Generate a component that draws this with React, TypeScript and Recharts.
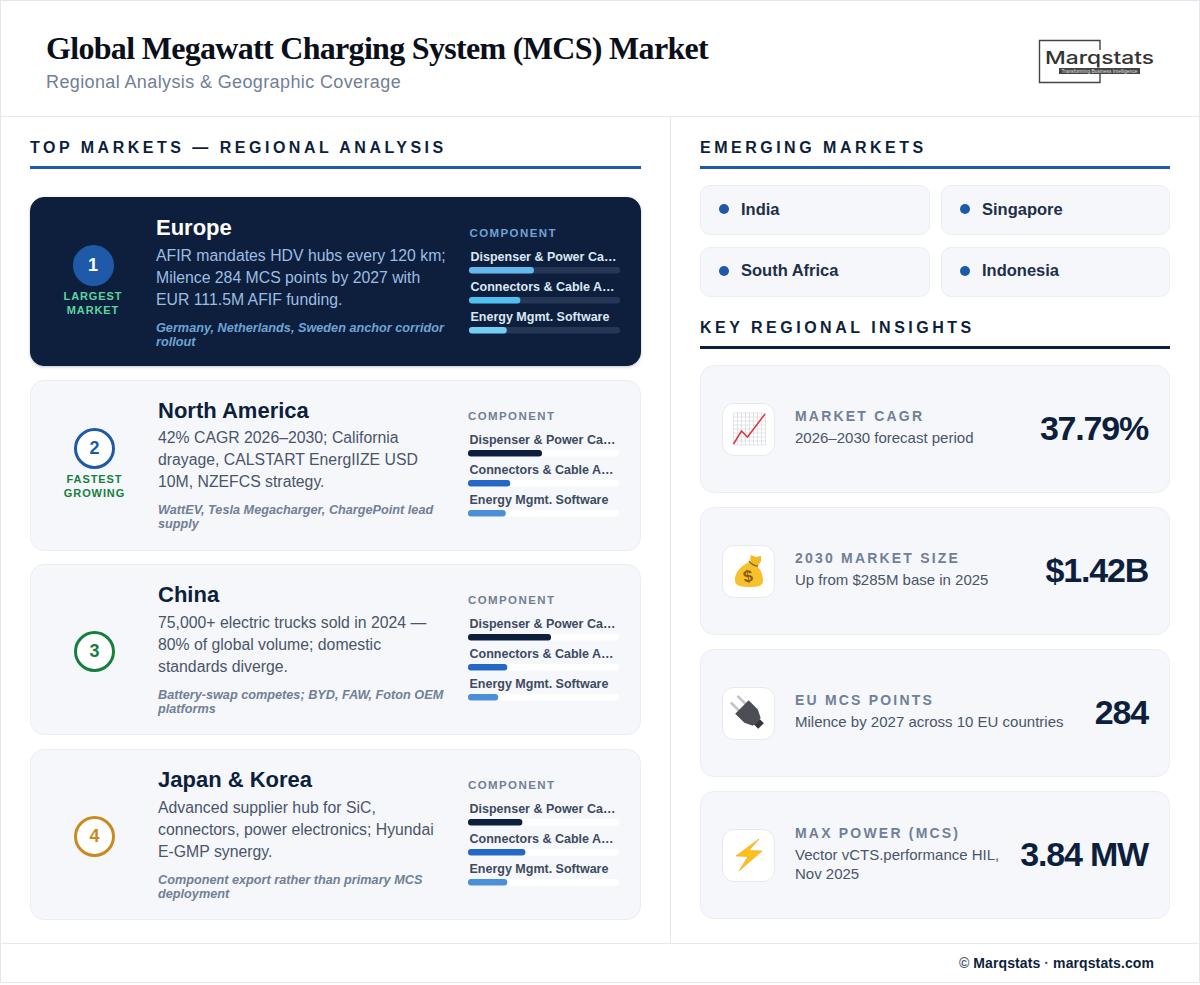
import { BarChart, Bar, Cell, XAxis, YAxis, LabelList } from 'recharts';

const SANS = '"Liberation Sans", Arial, sans-serif';
const NAVY = '#0d1f3c';
const BLUE = '#1e5aa8';
const CARD_BG = '#f5f7fb';
const CARD_BORDER = '#e9edf4';

// component rows shared by all four regional cards
const componentLabels = ['Dispenser & Power Ca…', 'Connectors & Cable A…', 'Energy Mgmt. Software'];

const europeShares = [43, 34, 25];
const northAmericaShares = [49, 28, 25];
const chinaShares = [55, 26, 20];
const japanKoreaShares = [36, 38, 26];

const regionNames = ['Europe', 'North America', 'China', 'Japan & Korea'];
const regionBadges = [['LARGEST', 'MARKET'], ['FASTEST', 'GROWING'], [], []];
const regionBody = [
  ['AFIR mandates HDV hubs every 120 km;', 'Milence 284 MCS points by 2027 with', 'EUR 111.5M AFIF funding.'],
  ['42% CAGR 2026–2030; California', 'drayage, CALSTART EnergIIZE USD', '10M, NZEFCS strategy.'],
  ['75,000+ electric trucks sold in 2024 —', '80% of global volume; domestic', 'standards diverge.'],
  ['Advanced supplier hub for SiC,', 'connectors, power electronics; Hyundai', 'E-GMP synergy.'],
];
const regionNotes = [
  ['Germany, Netherlands, Sweden anchor corridor', 'rollout'],
  ['WattEV, Tesla Megacharger, ChargePoint lead', 'supply'],
  ['Battery-swap competes; BYD, FAW, Foton OEM', 'platforms'],
  ['Component export rather than primary MCS', 'deployment'],
];
const regionShares = [europeShares, northAmericaShares, chinaShares, japanKoreaShares];

const emergingMarkets = ['India', 'Singapore', 'South Africa', 'Indonesia'];

const insightLabels = ['MARKET CAGR', '2030 MARKET SIZE', 'EU MCS POINTS', 'MAX POWER (MCS)'];
const insightSubs = [
  ['2026–2030 forecast period'],
  ['Up from $285M base in 2025'],
  ['Milence by 2027 across 10 EU countries'],
  ['Vector vCTS.performance HIL,', 'Nov 2025'],
];
const insightValues = ['37.79%', '$1.42B', '284', '3.84 MW'];

// layout only
const cardTops = [197, 379.5, 564, 749];
const cardHeights = [169, 171, 171, 171];
const ringColors = ['#1e5aa8', '#1e5aa8', '#15803d', '#c98a1e'];
const lightBarColors = ['#0d1f3c', '#2468c4', '#4a90d9'];
const darkBarColors = ['#63b8ee', '#4fc0f0', '#74cdf5'];

const Txt = ({ x, cy, size, color, weight = 400, italic, spacing, right, center, family, children }: any) => (
  <div
    style={{
      position: 'absolute',
      left: right || center ? undefined : x,
      right: right ? 1200 - x : undefined,
      ...(center ? { left: x - 100, width: 200, textAlign: 'center' as const } : {}),
      top: cy - 15,
      height: 30,
      lineHeight: '30px',
      fontFamily: family || SANS,
      fontSize: size,
      color,
      fontWeight: weight,
      fontStyle: italic ? 'italic' : 'normal',
      letterSpacing: spacing,
      whiteSpace: 'nowrap',
    }}
  >
    {children}
  </div>
);

const Box = ({ x, y, w, h, bg, border, radius, shadow }: any) => (
  <div
    style={{
      position: 'absolute',
      left: x,
      top: y,
      width: w,
      height: h,
      boxSizing: 'border-box',
      background: bg,
      border: border ? `1px solid ${border}` : undefined,
      borderRadius: radius,
      boxShadow: shadow,
    }}
  />
);

const ComponentBars = ({ shares, dark, left, top }: any) => {
  const rows = componentLabels.map((label, i) => ({ label, share: shares[i] }));
  const colors = dark ? darkBarColors : lightBarColors;
  return (
    <div style={{ position: 'absolute', left, top: top - 10 }}>
      <BarChart
        width={155}
        height={100}
        layout="vertical"
        data={rows}
        margin={{ top: 10, right: 4, bottom: 0, left: 0 }}
      >
        <XAxis type="number" domain={[0, 100]} hide />
        <YAxis type="category" dataKey="label" hide />
        <Bar
          dataKey="share"
          barSize={6.5}
          radius={3}
          isAnimationActive={false}
          background={{ fill: dark ? '#253754' : '#ffffff', radius: 3 } as any}
        >
          {rows.map((r, i) => (
            <Cell key={r.label} fill={colors[i]} />
          ))}
          <LabelList
            dataKey="label"
            content={(p: any) => (
              <text
                x={1.5}
                y={p.y - 6.5}
                fontFamily={SANS}
                fontSize={12.5}
                fontWeight={700}
                fill={dark ? '#dbe7f5' : '#3d4a5f'}
              >
                {p.value}
              </text>
            )}
          />
        </Bar>
      </BarChart>
    </div>
  );
};

const RegionCard = ({ index }: { index: number }) => {
  const dark = index === 0;
  const top = cardTops[index];
  const h = cardHeights[index];
  const textX = dark ? 156 : 158;
  const chartX = dark ? 469 : 467.5;
  const badge = regionBadges[index];
  const badgeCx = dark ? 93 : 94.5;
  const badgeCy = top + (badge.length ? 68.5 : 87);
  return (
    <>
      <Box
        x={30}
        y={top}
        w={611}
        h={h}
        bg={dark ? NAVY : CARD_BG}
        border={dark ? NAVY : CARD_BORDER}
        radius={14}
        shadow={dark ? '0 1px 3px rgba(13,31,60,0.25)' : undefined}
      />
      <div
        style={{
          position: 'absolute',
          left: badgeCx - 20.5,
          top: badgeCy - 20.5,
          width: 41,
          height: 41,
          boxSizing: 'border-box',
          borderRadius: '50%',
          background: dark ? BLUE : '#ffffff',
          border: `3px solid ${ringColors[index]}`,
          color: dark ? '#ffffff' : ringColors[index],
          fontFamily: SANS,
          fontWeight: 700,
          fontSize: 18,
          textAlign: 'center',
          lineHeight: '35px',
        }}
      >
        {index + 1}
      </div>
      {badge.map((line, i) => (
        <Txt
          key={line}
          x={badgeCx}
          cy={top + 99 + i * 14}
          center
          size={11}
          weight={700}
          spacing={0.9}
          color={dark ? '#5ad6a0' : '#15803d'}
        >
          {line}
        </Txt>
      ))}
      <Txt x={textX} cy={top + 31} size={22} weight={700} color={dark ? '#ffffff' : NAVY}>
        {regionNames[index]}
      </Txt>
      {regionBody[index].map((line, i) => (
        <Txt key={line} x={textX} cy={top + 58.5 + i * 22} size={15.8} color={dark ? '#9dbde3' : '#4a5568'}>
          {line}
        </Txt>
      ))}
      {regionNotes[index].map((line, i) => (
        <Txt
          key={line}
          x={textX}
          cy={top + 130.5 + i * 14}
          size={12.7}
          weight={700}
          italic
          color={dark ? '#6fa3d6' : '#718096'}
        >
          {line}
        </Txt>
      ))}
      <Txt
        x={chartX + 0.5}
        cy={top + 36}
        size={11.5}
        weight={700}
        spacing={1.4}
        color={dark ? '#6fa3d6' : '#718096'}
      >
        COMPONENT
      </Txt>
      <ComponentBars shares={regionShares[index]} dark={dark} left={chartX} top={top + 58} />
    </>
  );
};

const TrendIcon = () => (
  <svg width={53} height={53} viewBox="0 0 53 53">
    {[0, 1, 2, 3, 4, 5, 6, 7, 8].map((i) => (
      <g key={i} stroke="#d5d8de" strokeWidth={0.7}>
        <line x1={11.5 + i * 4} y1={10} x2={11.5 + i * 4} y2={42} />
        <line x1={11.5} y1={10 + i * 4} x2={43.5} y2={10 + i * 4} />
      </g>
    ))}
    <polyline points="11.5,41 19.5,28 25.5,34 43,11" fill="none" stroke="#d9393c" strokeWidth={1.5} />
  </svg>
);

const BagIcon = () => (
  <svg width={53} height={53} viewBox="0 0 53 53">
    <path d="M28 14 L29 10 L34 12 L39 11 L39 16 L36 21 L30 19 Z" fill="#f5b921" />
    <path
      d="M27 17 C18 21 12 29 13 36 C13 41 20 42 28 42 C36 42 41 41 41 36 C41 29 38 23 34 20 Z"
      fill="#f7c12e"
    />
    <path d="M27 16 Q31 21 36 21" fill="none" stroke="#8a6a1f" strokeWidth={1.4} />
    <text
      x={26}
      y={37}
      textAnchor="middle"
      fontFamily={SANS}
      fontWeight={700}
      fontSize={17}
      fill="#8a5a16"
      transform="rotate(-10 26 32)"
    >
      $
    </text>
  </svg>
);

const PlugIcon = () => (
  <svg width={53} height={53} viewBox="0 0 53 53">
    <g transform="translate(27 27) rotate(45)">
      <rect x={-21} y={-6} width={13} height={2.6} fill="#c2c4c9" />
      <rect x={-21} y={3.4} width={13} height={2.6} fill="#c2c4c9" />
      <path d="M-10 -9.5 L3 -9.5 L11 -5.5 L11 5.5 L3 9.5 L-10 9.5 Z" fill="#4b4e55" />
      <rect x={11} y={-4} width={6} height={8} fill="#33353b" />
    </g>
  </svg>
);

const BoltIcon = () => (
  <svg width={53} height={53} viewBox="0 0 53 53">
    <polygon
      points="37,10 14,27 26,27.5 17,42 40,22 27,21.5"
      fill="#fcc21b"
      stroke="#f79c1b"
      strokeWidth={0.6}
    />
  </svg>
);

const insightIcons = [TrendIcon, BagIcon, PlugIcon, BoltIcon];
const insightTops = [365, 507, 649, 791];

const InsightCard = ({ index }: { index: number }) => {
  const top = insightTops[index];
  const Icon = insightIcons[index];
  const twoLines = insightSubs[index].length > 1;
  const labelY = top + (twoLines ? 42 : 51);
  return (
    <>
      <Box x={700} y={top} w={470} h={128} bg={CARD_BG} border={CARD_BORDER} radius={14} />
      <Box x={722} y={top + 38} w={53} h={53} bg="#ffffff" border="#e6e9f0" radius={12} />
      <div style={{ position: 'absolute', left: 722, top: top + 38, width: 53, height: 53 }}>
        <Icon />
      </div>
      <Txt x={795} cy={labelY} size={14} weight={700} spacing={2.2} color="#718096">
        {insightLabels[index]}
      </Txt>
      {insightSubs[index].map((line, i) => (
        <Txt key={line} x={795} cy={labelY + 22 + i * 19} size={15} color="#4a5568">
          {line}
        </Txt>
      ))}
      <Txt x={1148} cy={top + 63} right size={34} weight={700} spacing={-1.2} color={NAVY}>
        {insightValues[index]}
      </Txt>
    </>
  );
};

const Logo = () => (
  <svg width={125} height={50} viewBox="0 0 125 50" style={{ position: 'absolute', left: 1035, top: 37 }}>
    <path d="M65 13 L65 3.5 L4.5 3.5 L4.5 45.5 L65 45.5 L65 37" fill="none" stroke="#444444" strokeWidth={1.4} />
    <text
      x={10}
      y={27}
      fontFamily="Inter, sans-serif"
      fontWeight={500}
      fontSize={17.5}
      fill="#333333"
      stroke="#ffffff"
      strokeWidth={3}
      paintOrder="stroke"
      textLength={109}
      lengthAdjust="spacingAndGlyphs"
    >
      Marqstats
    </text>
    <rect x={24} y={31} width={81} height={6} fill="#444444" />
    <text x={64.5} y={36} textAnchor="middle" fontFamily={SANS} fontSize={4.8} fill="#e5e5e5" textLength={76}>
      Transforming Business Intelligence
    </text>
  </svg>
);

const SectionHead = ({ x, cy, w, color, children }: any) => (
  <>
    <Txt x={x} cy={cy + 0.8} size={16} weight={700} spacing={3.5} color={NAVY}>
      {children}
    </Txt>
    <Box x={x} y={cy + 19} w={w} h={3} bg={color} />
  </>
);

export default function App() {
  return (
    <div style={{ position: 'absolute', left: 0, top: 0, width: 1200, height: 985, background: '#ffffff', overflow: 'hidden' }}>
      {/* frame and dividers */}
      <Box x={0} y={0} w={1200} h={983} border="#e3e7f0" />
      <Box x={0} y={115.5} w={1200} h={1.5} bg="#e6e8ee" />
      <Box x={669.5} y={116} w={1.5} h={827} bg="#e6e8ee" />
      <Box x={0} y={942.5} w={1200} h={1.5} bg="#e6e8ee" />

      <Txt x={46} cy={48} size={32} weight={700} spacing={-0.69} color="#0a0f1a" family='"Liberation Serif", serif'>
        Global Megawatt Charging System (MCS) Market
      </Txt>
      <Txt x={46} cy={82} size={18} color="#718096" spacing={0.38}>
        Regional Analysis &amp; Geographic Coverage
      </Txt>
      <Logo />

      <SectionHead x={30} cy={147} w={611} color={BLUE}>
        TOP MARKETS — REGIONAL ANALYSIS
      </SectionHead>
      {regionNames.map((name, i) => (
        <RegionCard key={name} index={i} />
      ))}

      <SectionHead x={700} cy={147} w={470} color={BLUE}>
        EMERGING MARKETS
      </SectionHead>
      {emergingMarkets.map((m, i) => {
        const x = i % 2 === 0 ? 700 : 941;
        const y = i < 2 ? 185 : 247;
        return (
          <div key={m}>
            <Box x={x} y={y} w={i % 2 === 0 ? 230 : 229} h={50} bg={CARD_BG} border={CARD_BORDER} radius={10} />
            <Box x={x + 18.5} y={y + 19} w={10} h={10} bg={BLUE} radius={5} />
            <Txt x={x + 41} cy={y + (i < 2 ? 24 : 23)} size={16.5} weight={700} color="#1f2f49">
              {m}
            </Txt>
          </div>
        );
      })}

      <SectionHead x={700} cy={327} w={470} color={NAVY}>
        KEY REGIONAL INSIGHTS
      </SectionHead>
      {insightLabels.map((label, i) => (
        <InsightCard key={label} index={i} />
      ))}

      <Txt x={1154} cy={963} right size={14} weight={700} color={NAVY} spacing={0.1}>
        <span style={{ color: '#4a5568' }}>©</span> Marqstats <span style={{ color: '#4a5568' }}>·</span> marqstats.com
      </Txt>
    </div>
  );
}
